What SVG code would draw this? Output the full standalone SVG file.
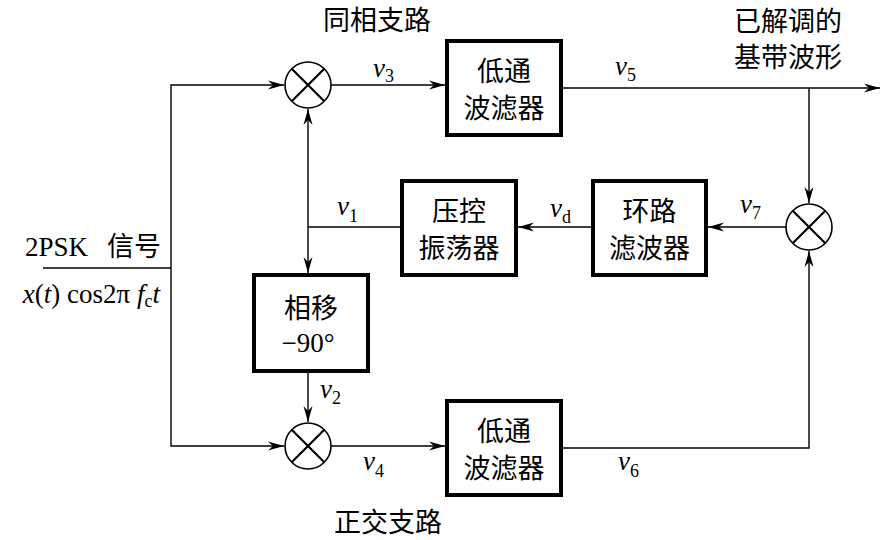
<svg xmlns="http://www.w3.org/2000/svg" width="881" height="540" viewBox="0 0 881 540">
<style>
.box{fill:#fff;stroke:#000;stroke-width:4}
.mix{fill:#fff;stroke:#000;stroke-width:1.6}
.x{stroke:#000;stroke-width:2.2}
.ln{fill:none;stroke:#000;stroke-width:1.4}
.arr{fill:none;stroke:#000;stroke-width:1.4;marker-end:url(#ah)}
.cn{font-family:"Noto Sans CJK SC","Noto Sans CJK TC",sans-serif;font-size:27px;fill:#000}
.ct{text-anchor:middle}
.lat{font-family:"Liberation Serif",serif;font-size:27px;fill:#000}
.v{font-family:"Liberation Serif",serif;font-style:italic;font-size:27px;fill:#000}
.sub{font-family:"Liberation Serif",serif;font-style:normal;font-size:18px}
</style>
<defs>
<marker id="ah" markerUnits="userSpaceOnUse" markerWidth="20" markerHeight="12" viewBox="-17 -6 18 12" refX="0" refY="0" orient="auto">
<path d="M0,0 L-16,-4.5 L-11,0 L-16,4.5 Z" fill="#000"/>
</marker>
</defs>
<rect width="881" height="540" fill="#fff"/>

<g id="connectors">
<path class="ln" d="M43,268 H171"/>
<path class="arr" d="M171,268 V85 H284"/>
<path class="arr" d="M171,268 V446 H284"/>
<path class="arr" d="M331,85 H445"/>
<path class="arr" d="M563,88 H880"/>
<path class="arr" d="M809,88 V203"/>
<path class="arr" d="M786,227 H708"/>
<path class="arr" d="M591,227 H518"/>
<path class="ln" d="M400,227 H308"/>
<path class="arr" d="M308,227 V109"/>
<path class="arr" d="M308,227 V273"/>
<path class="arr" d="M308,373 V422"/>
<path class="arr" d="M331,446 H445"/>
<path class="arr" d="M563,448 H809 V251"/>
</g>

<g id="mixer-top">
<circle class="mix" cx="308" cy="85" r="23"/>
<path class="x" d="M291.7,68.7 L324.3,101.3 M324.3,68.7 L291.7,101.3"/>
</g>
<g id="mixer-bottom">
<circle class="mix" cx="308" cy="446" r="23"/>
<path class="x" d="M291.7,429.7 L324.3,462.3 M324.3,429.7 L291.7,462.3"/>
</g>
<g id="mixer-right">
<circle class="mix" cx="809" cy="227" r="23"/>
<path class="x" d="M792.7,210.7 L825.3,243.3 M825.3,210.7 L792.7,243.3"/>
</g>

<g id="lpf-top">
<rect class="box" x="447" y="41" width="114" height="94"/>
<text class="cn ct" x="504" y="81">低通</text>
<text class="cn ct" x="504" y="118">波滤器</text>
</g>
<g id="vco">
<rect class="box" x="402" y="181" width="114" height="94"/>
<text class="cn ct" x="459" y="221">压控</text>
<text class="cn ct" x="459" y="258">振荡器</text>
</g>
<g id="loop-filter">
<rect class="box" x="593" y="181" width="113" height="94"/>
<text class="cn ct" x="649.5" y="221">环路</text>
<text class="cn ct" x="649.5" y="258">滤波器</text>
</g>
<g id="phase-shift">
<rect class="box" x="254" y="275" width="114" height="96"/>
<text class="cn ct" x="311" y="318">相移</text>
<text class="lat ct" x="308" y="352">−90°</text>
</g>
<g id="lpf-bottom">
<rect class="box" x="447" y="401" width="114" height="94"/>
<text class="cn ct" x="504" y="441">低通</text>
<text class="cn ct" x="504" y="478">波滤器</text>
</g>

<g id="labels">
<text class="cn ct" x="377" y="30" font-size="25">同相支路</text>
<text class="cn ct" x="788" y="31" font-size="24">已解调的</text>
<text class="cn ct" x="788" y="67" font-size="24">基带波形</text>
<text class="cn ct" x="388" y="532" font-size="26">正交支路</text>
<text x="25" y="256"><tspan class="lat" font-size="29">2PSK</tspan><tspan class="cn" x="107">信号</tspan></text>
<text class="lat" x="160" y="303" text-anchor="end"><tspan font-style="italic">x</tspan>(<tspan font-style="italic">t</tspan>) cos2π <tspan font-style="italic">f</tspan><tspan font-size="18" dy="4">c</tspan><tspan font-style="italic" dy="-4">t</tspan></text>
<text class="v" x="373" y="77">v<tspan class="sub" dy="5">3</tspan></text>
<text class="v" x="615" y="75">v<tspan class="sub" dy="6">5</tspan></text>
<text class="v" x="337" y="215">v<tspan class="sub" dy="7">1</tspan></text>
<text class="v" x="550" y="217">v<tspan class="sub" dy="6">d</tspan></text>
<text class="v" x="740" y="213">v<tspan class="sub" dy="6">7</tspan></text>
<text class="v" x="320" y="398">v<tspan class="sub" dy="6">2</tspan></text>
<text class="v" x="363" y="470">v<tspan class="sub" dy="7">4</tspan></text>
<text class="v" x="618" y="470">v<tspan class="sub" dy="7">6</tspan></text>
</g>
</svg>
